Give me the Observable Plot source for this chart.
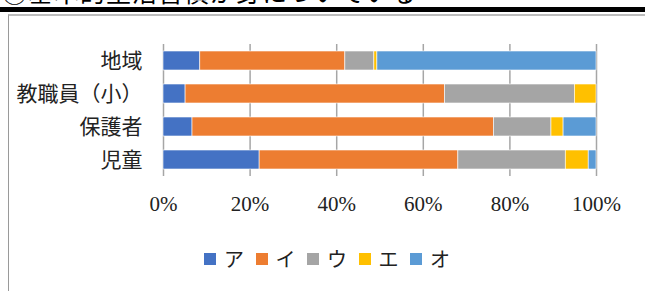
<!DOCTYPE html>
<html>
<head>
<meta charset="utf-8">
<script src="https://cdn.jsdelivr.net/npm/d3@7"></script>
<script src="https://cdn.jsdelivr.net/npm/@observablehq/plot@0.6"></script>
<style>
  html, body { margin: 0; padding: 0; background: #fff; width: 645px; height: 291px; overflow: hidden; position: relative; }
  #title { position: absolute; left: 0; top: 0; width: 645px; height: 6px; overflow: hidden; }
  #title span { position: absolute; left: 2px; top: -21px; font: 25px/25px "Noto Sans CJK JP"; color: #000; white-space: nowrap; letter-spacing: 1px; }
  #bar { position: absolute; left: 0; top: 7px; width: 645px; height: 5px; background: #000; }
  #frame { position: absolute; left: 8px; top: 14px; width: 700px; height: 300px; border-left: 1.5px solid #9a9a9a; border-top: 2px solid #bdbdbd; }
  #chart { position: absolute; left: 0; top: 0; }
  #legend { position: absolute; left: 204px; top: 242px; }
  .lg-swatches { font: 20px "Liberation Serif", "Noto Sans CJK JP"; color: #222; margin: 0 !important; }
  .lg-swatch { margin-right: 0 !important; width: 51.5px; }
  .lg-swatch > svg { margin-right: 8px !important; }
</style>
</head>
<body>
<div id="title"><span>③基本的生活習慣が身についている</span></div>
<div id="bar"></div>
<div id="frame"></div>
<div id="chart"></div>
<div id="legend"></div>
<script>
const groups = ["地域", "教職員（小）", "保護者", "児童"];
const answers = ["ア", "イ", "ウ", "エ", "オ"];
const colors = ["#4472C4", "#ED7D31", "#A5A5A5", "#FFC000", "#5B9BD5"];
// shares (%) per group, in order ア..オ
const chiiki   = [8.5, 33.5, 6.7, 0.7, 50.6];
const kyoshoku = [5.1, 59.9, 30.0, 5.0, 0.0];
const hogosha  = [6.7, 69.6, 13.3, 2.8, 7.6];
const jido     = [22.2, 45.9, 24.8, 5.3, 1.8];
const xTicks = [0, 0.2, 0.4, 0.6, 0.8, 1.0];

const series = [chiiki, kyoshoku, hogosha, jido];
const rows = [];
groups.forEach((g, i) => {
  answers.forEach((a, j) => rows.push({group: g, answer: a, value: series[i][j] / 100}));
});

const plot = Plot.plot({
  width: 645,
  height: 230,
  marginLeft: 163,
  marginRight: 49,
  marginTop: 44,
  marginBottom: 54,
  style: {fontFamily: '"Liberation Serif", "Noto Sans CJK JP"', fontSize: "21px", color: "#222", background: "transparent"},
  x: {domain: [0, 1], ticks: xTicks, tickFormat: d => Math.round(d * 100) + "%", tickSize: 0, tickPadding: 20, label: null},
  y: {domain: groups, paddingInner: 0.42, paddingOuter: 0.21, tickSize: 0, tickPadding: 21, label: null},
  color: {domain: answers, range: colors},
  marks: [
    Plot.ruleX(xTicks, {stroke: "#a6a6a6", strokeWidth: 1.5}),
    Plot.barX(rows, Plot.stackX({x: "value", y: "group", fill: "answer", order: answers, stroke: "#fff", strokeWidth: 0.6}))
  ]
});
document.getElementById("chart").appendChild(plot);

const leg = Plot.legend({color: {domain: answers, range: colors}, legend: "swatches", swatchSize: 12, className: "lg"});
document.getElementById("legend").appendChild(leg);
</script>
</body>
</html>
